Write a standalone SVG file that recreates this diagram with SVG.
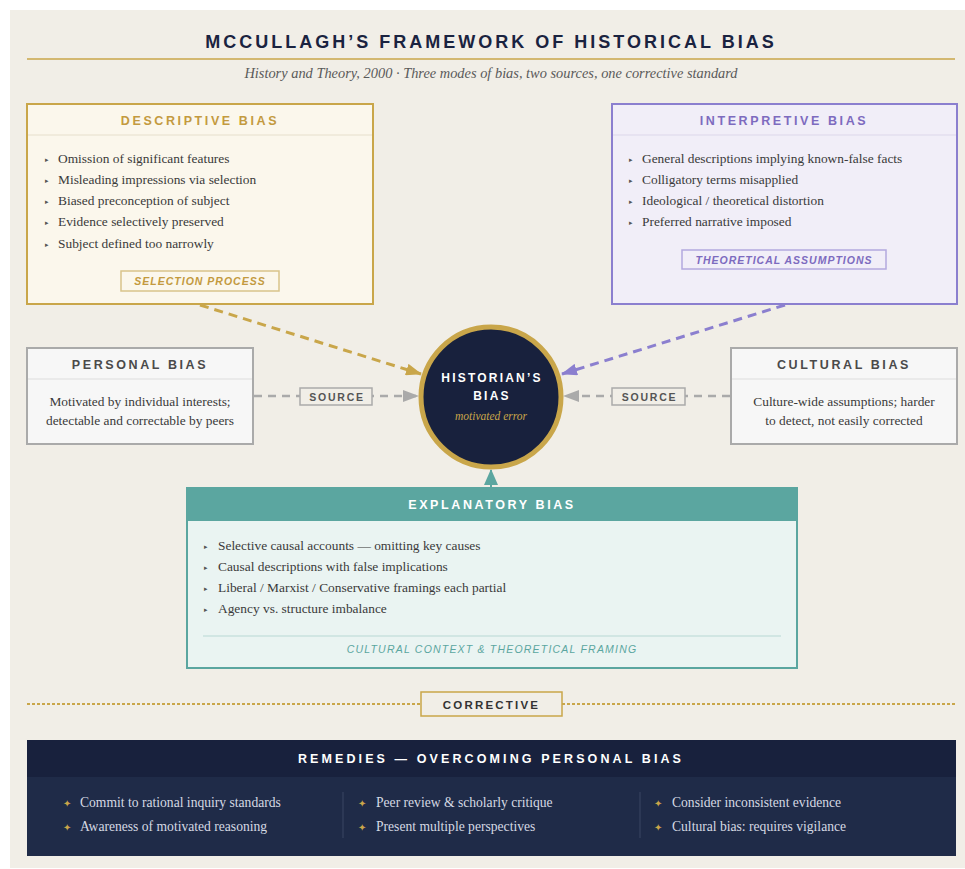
<svg xmlns="http://www.w3.org/2000/svg" width="965" height="869" viewBox="0 0 965 869">
  <defs>
    <style>
      .sans { font-family: "Liberation Sans", Arial, sans-serif; }
      .serif { font-family: "Liberation Serif", "Times New Roman", serif; }
      .title { font-size: 18px; font-weight: bold; letter-spacing: 3px; fill: #1a2340; }
      .sub { font-size: 14.4px; font-style: italic; fill: #5a5a5a; }
      .hdr { font-size: 12.5px; font-weight: bold; letter-spacing: 2.6px; }
      .hdr-wide { letter-spacing: 3.1px; }
      .item { font-size: 13.4px; fill: #3a3a3a; }
      .tri { font-size: 7px; fill: #555; }
      .tag { font-size: 10.5px; font-weight: bold; font-style: italic; letter-spacing: 1px; }
      .lbl { font-size: 10.5px; font-weight: bold; letter-spacing: 1.8px; fill: #555; }
      .rem { font-size: 13.6px; fill: #d5d9e3; }
      .star { font-size: 10px; fill: #c9a64a; }
    </style>
    <marker id="arrGold" viewBox="0 0 16 12" refX="15" refY="6" markerWidth="16" markerHeight="12" markerUnits="userSpaceOnUse" orient="auto">
      <path d="M0,0 L16,6 L0,12 z" fill="#c9a64a"/>
    </marker>
    <marker id="arrPurple" viewBox="0 0 16 12" refX="15" refY="6" markerWidth="16" markerHeight="12" markerUnits="userSpaceOnUse" orient="auto">
      <path d="M0,0 L16,6 L0,12 z" fill="#8b7fcf"/>
    </marker>
    <marker id="arrGray" viewBox="0 0 16 12" refX="15" refY="6" markerWidth="16" markerHeight="12" markerUnits="userSpaceOnUse" orient="auto">
      <path d="M0,0 L16,6 L0,12 z" fill="#aaaaaa"/>
    </marker>
    <marker id="arrTeal" viewBox="0 0 16 14" refX="15" refY="7" markerWidth="16" markerHeight="14" markerUnits="userSpaceOnUse" orient="auto">
      <path d="M0,0 L16,7 L0,14 z" fill="#5ba6a0"/>
    </marker>
  </defs>

  <!-- page -->
  <rect x="0" y="0" width="965" height="869" fill="#ffffff"/>
  <rect x="10" y="10" width="955" height="858" fill="#f1eee7"/>

  <!-- heading -->
  <g id="heading">
    <text class="sans title" x="491" y="48" text-anchor="middle">MCCULLAGH’S FRAMEWORK OF HISTORICAL BIAS</text>
    <line x1="27" y1="59" x2="955" y2="59" stroke="#c9a64a" stroke-width="1.5"/>
    <text class="serif sub" x="491" y="78" text-anchor="middle">History and Theory, 2000 · Three modes of bias, two sources, one corrective standard</text>
  </g>

  <!-- connectors -->
  <g id="connectors">
    <line x1="200" y1="305" x2="421" y2="374" stroke="#c9a64a" stroke-width="3" stroke-dasharray="9 6" marker-end="url(#arrGold)"/>
    <line x1="785" y1="305" x2="562" y2="374" stroke="#8b7fcf" stroke-width="3" stroke-dasharray="9 6" marker-end="url(#arrPurple)"/>
    <line x1="254" y1="396" x2="418" y2="396" stroke="#aaaaaa" stroke-width="2.5" stroke-dasharray="8 6" marker-end="url(#arrGray)"/>
    <line x1="730" y1="396" x2="564" y2="396" stroke="#aaaaaa" stroke-width="2.5" stroke-dasharray="8 6" marker-end="url(#arrGray)"/>
    <line x1="491" y1="489" x2="491" y2="470" stroke="#5ba6a0" stroke-width="2" marker-end="url(#arrTeal)"/>
    <g id="source-left">
      <rect x="300" y="388" width="72" height="17" fill="#f1eee7" stroke="#aaaaaa" stroke-width="1.5"/>
      <text class="sans lbl" x="337" y="400.5" text-anchor="middle">SOURCE</text>
    </g>
    <g id="source-right">
      <rect x="612" y="388" width="73" height="17" fill="#f1eee7" stroke="#aaaaaa" stroke-width="1.5"/>
      <text class="sans lbl" x="649.5" y="400.5" text-anchor="middle">SOURCE</text>
    </g>
  </g>

  <!-- descriptive bias -->
  <g id="descriptive">
    <rect x="27" y="104" width="346" height="200" fill="#fbf7ec" stroke="#c9a64a" stroke-width="2"/>
    <line x1="28" y1="135" x2="372" y2="135" stroke="#e6dfcc" stroke-width="1"/>
    <text class="sans hdr" x="200" y="125" text-anchor="middle" fill="#c39a3f">DESCRIPTIVE BIAS</text>
    <g class="serif">
      <text class="tri" x="45" y="161.5">▸</text><text class="item" x="58" y="162.5">Omission of significant features</text>
      <text class="tri" x="45" y="182.8">▸</text><text class="item" x="58" y="183.8">Misleading impressions via selection</text>
      <text class="tri" x="45" y="204.1">▸</text><text class="item" x="58" y="205.1">Biased preconception of subject</text>
      <text class="tri" x="45" y="225.4">▸</text><text class="item" x="58" y="226.4">Evidence selectively preserved</text>
      <text class="tri" x="45" y="246.7">▸</text><text class="item" x="58" y="247.7">Subject defined too narrowly</text>
    </g>
    <rect x="121" y="271" width="158" height="20" fill="none" stroke="#d9c48a" stroke-width="1.5"/>
    <text class="sans tag" x="200" y="285" text-anchor="middle" fill="#c39a3f">SELECTION PROCESS</text>
  </g>

  <!-- interpretive bias -->
  <g id="interpretive">
    <rect x="612" y="104" width="345" height="200" fill="#f1eef8" stroke="#8b7fcf" stroke-width="2"/>
    <line x1="613" y1="135" x2="956" y2="135" stroke="#dcd7ea" stroke-width="1"/>
    <text class="sans hdr" x="784" y="125" text-anchor="middle" fill="#7d6bbf">INTERPRETIVE BIAS</text>
    <g class="serif">
      <text class="tri" x="629" y="161.5">▸</text><text class="item" x="642" y="162.5">General descriptions implying known-false facts</text>
      <text class="tri" x="629" y="182.8">▸</text><text class="item" x="642" y="183.8">Colligatory terms misapplied</text>
      <text class="tri" x="629" y="204.1">▸</text><text class="item" x="642" y="205.1">Ideological / theoretical distortion</text>
      <text class="tri" x="629" y="225.4">▸</text><text class="item" x="642" y="226.4">Preferred narrative imposed</text>
    </g>
    <rect x="682" y="250" width="204" height="19" fill="none" stroke="#b3a9de" stroke-width="1.5"/>
    <text class="sans tag" x="784" y="263.5" text-anchor="middle" fill="#7d6bbf">THEORETICAL ASSUMPTIONS</text>
  </g>

  <!-- personal bias -->
  <g id="personal">
    <rect x="27" y="348" width="226" height="96" fill="#f7f7f7" stroke="#aaaaaa" stroke-width="2"/>
    <line x1="28" y1="379" x2="252" y2="379" stroke="#dddddd" stroke-width="1"/>
    <text class="sans hdr" x="140" y="369" text-anchor="middle" fill="#4a4a4a">PERSONAL BIAS</text>
    <text class="serif item" x="140" y="406" text-anchor="middle" fill="#555">Motivated by individual interests;</text>
    <text class="serif item" x="140" y="425" text-anchor="middle" fill="#555">detectable and correctable by peers</text>
  </g>

  <!-- cultural bias -->
  <g id="cultural">
    <rect x="731" y="348" width="226" height="96" fill="#f7f7f7" stroke="#aaaaaa" stroke-width="2"/>
    <line x1="732" y1="379" x2="956" y2="379" stroke="#dddddd" stroke-width="1"/>
    <text class="sans hdr" x="844" y="369" text-anchor="middle" fill="#4a4a4a">CULTURAL BIAS</text>
    <text class="serif item" x="844" y="406" text-anchor="middle" fill="#555">Culture-wide assumptions; harder</text>
    <text class="serif item" x="844" y="425" text-anchor="middle" fill="#555">to detect, not easily corrected</text>
  </g>

  <!-- historian's bias -->
  <g id="historian">
    <circle cx="491" cy="397" r="70" fill="#18213d" stroke="#c9a64a" stroke-width="5"/>
    <text class="sans" x="492" y="382" text-anchor="middle" font-size="12" font-weight="bold" letter-spacing="2.2" fill="#ffffff">HISTORIAN’S</text>
    <text class="sans" x="492" y="400" text-anchor="middle" font-size="12" font-weight="bold" letter-spacing="2.2" fill="#ffffff">BIAS</text>
    <text class="serif" x="491" y="420" text-anchor="middle" font-size="11.5" font-style="italic" fill="#c9a64a">motivated error</text>
  </g>

  <!-- explanatory bias -->
  <g id="explanatory">
    <rect x="187" y="488" width="610" height="180" fill="#eaf4f2" stroke="#5ba6a0" stroke-width="2"/>
    <rect x="187" y="488" width="610" height="33" fill="#5ba6a0"/>
    <text class="sans hdr" x="492" y="509" text-anchor="middle" fill="#ffffff">EXPLANATORY BIAS</text>
    <g class="serif">
      <text class="tri" x="204" y="549">▸</text><text class="item" x="218" y="550">Selective causal accounts — omitting key causes</text>
      <text class="tri" x="204" y="570">▸</text><text class="item" x="218" y="571">Causal descriptions with false implications</text>
      <text class="tri" x="204" y="591">▸</text><text class="item" x="218" y="592">Liberal / Marxist / Conservative framings each partial</text>
      <text class="tri" x="204" y="612">▸</text><text class="item" x="218" y="613">Agency vs. structure imbalance</text>
    </g>
    <line x1="203" y1="636" x2="781" y2="636" stroke="#c9e2de" stroke-width="1.5"/>
    <text class="sans" x="492" y="653" text-anchor="middle" font-size="10.5" font-style="italic" letter-spacing="1.2" fill="#5ba6a0">CULTURAL CONTEXT &amp; THEORETICAL FRAMING</text>
  </g>

  <!-- corrective divider -->
  <g id="corrective">
    <line x1="27" y1="704" x2="955" y2="704" stroke="#c9a64a" stroke-width="2" stroke-dasharray="3 2"/>
    <rect x="421" y="692" width="141" height="24" fill="#f1eee7" stroke="#c9a64a" stroke-width="1.5"/>
    <text class="sans" x="491.5" y="708.5" text-anchor="middle" font-size="11.5" font-weight="bold" letter-spacing="2.2" fill="#333">CORRECTIVE</text>
  </g>

  <!-- remedies -->
  <g id="remedies">
    <rect x="27" y="740" width="929" height="116" fill="#1f2b48"/>
    <rect x="27" y="740" width="929" height="37" fill="#18213d"/>
    <text class="sans hdr hdr-wide" x="491" y="763" text-anchor="middle" fill="#ffffff">REMEDIES — OVERCOMING PERSONAL BIAS</text>
    <line x1="343" y1="792" x2="343" y2="838" stroke="#3a4662" stroke-width="1"/>
    <line x1="640" y1="792" x2="640" y2="838" stroke="#3a4662" stroke-width="1"/>
    <g class="serif">
      <text class="star" x="63" y="807">✦</text><text class="rem" x="80" y="807">Commit to rational inquiry standards</text>
      <text class="star" x="63" y="831">✦</text><text class="rem" x="80" y="831">Awareness of motivated reasoning</text>
      <text class="star" x="358" y="807">✦</text><text class="rem" x="376" y="807">Peer review &amp; scholarly critique</text>
      <text class="star" x="358" y="831">✦</text><text class="rem" x="376" y="831">Present multiple perspectives</text>
      <text class="star" x="654" y="807">✦</text><text class="rem" x="672" y="807">Consider inconsistent evidence</text>
      <text class="star" x="654" y="831">✦</text><text class="rem" x="672" y="831">Cultural bias: requires vigilance</text>
    </g>
  </g>
</svg>
